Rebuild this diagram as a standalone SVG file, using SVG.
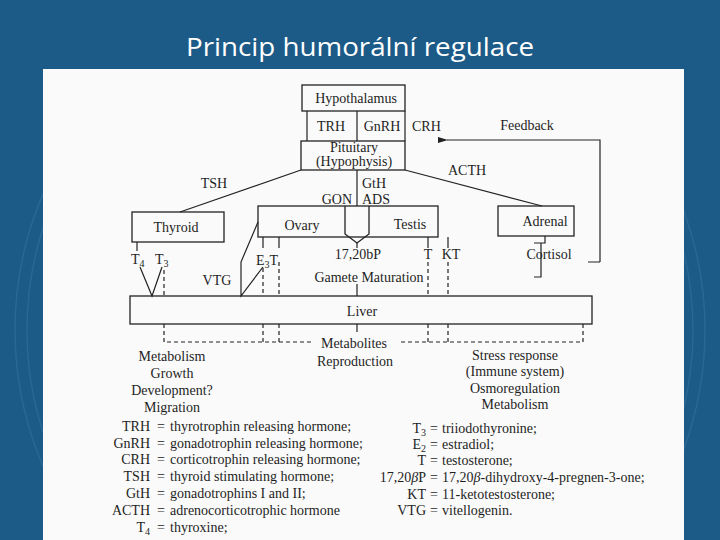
<svg xmlns="http://www.w3.org/2000/svg" width="720" height="540" viewBox="0 0 720 540">
<defs>
<style>
.box{fill:none;stroke:#222;stroke-width:1.3}
.ln{fill:none;stroke:#222;stroke-width:1.2}
.dash{stroke-dasharray:4 3}
.t{font-family:"Liberation Serif","Times New Roman",serif;font-size:14px;fill:#1e1e1e}
.c{text-anchor:middle}
.e{text-anchor:end}
.deco{fill:none;stroke:#3a77a5;stroke-width:1.5;opacity:0.45}
</style>
<clipPath id="sides">
<rect x="0" y="150" width="43" height="390"/>
<rect x="684" y="150" width="36" height="390"/>
</clipPath>
<marker id="arr" markerWidth="10" markerHeight="8" refX="1" refY="4" orient="auto" markerUnits="userSpaceOnUse">
<path d="M10,1 L0,4 L10,7 Z" fill="#222"/>
</marker>
</defs>
<rect x="0" y="0" width="720" height="540" fill="#1c5a87"/>
<g clip-path="url(#sides)">
<circle class="deco" cx="360" cy="330" r="345"/>
<circle class="deco" cx="360" cy="330" r="333"/>
</g>
<text x="360" y="56" text-anchor="middle" font-family="'Open Sans','Noto Sans',sans-serif" font-size="26" fill="#ffffff" textLength="348" lengthAdjust="spacingAndGlyphs">Princip humorální regulace</text>
<rect x="43" y="69" width="641" height="471" fill="#fafafa"/>

<g id="connectors">
<path class="ln" d="M301,170 L180,212"/>
<path class="ln" d="M405,170 L542,206"/>
<path class="ln" d="M357,170 V206"/>
<path class="ln" d="M600,262 H588 M600,262 V140 H447" marker-end="url(#arr)"/>
<path class="ln" d="M137,242 V251"/>
<path class="ln" d="M140,267 L152,296 L162,267"/>
<path class="ln dash" d="M164,270 V296"/>
<path class="ln" d="M258,222 L241,262 V296 L263,267"/>
<path class="ln" d="M263,237 V248 M279,237 V248"/>
<path class="ln dash" d="M263,268 V296 M279,262 V296"/>
<path class="ln" d="M357,243 V248 M357,284 V296"/>
<path class="ln" d="M428,237 V248 M448,237 V248"/>
<path class="ln dash" d="M428,262 V296 M448,262 V296"/>
<path class="ln" d="M545,236 V243 H534 M541,243 V277 H534"/>
<path class="ln" d="M357,324 V332"/>
<path class="ln dash" d="M164,324 V342 H311 M263,324 V342 M279,324 V342"/>
<path class="ln dash" d="M428,324 V342 M448,324 V342 M583,324 V342 H398"/>
</g>

<g id="hypothalamus">
<rect class="box" x="302" y="85" width="103" height="26"/>
<text class="t c" x="356" y="103">Hypothalamus</text>
<path class="ln" d="M307,111 V141 M357,111 V141 M405,111 V141"/>
<text class="t c" x="331" y="131">TRH</text>
<text class="t c" x="382" y="131">GnRH</text>
<text class="t" x="412" y="131">CRH</text>
</g>

<g id="pituitary">
<rect class="box" x="301" y="141" width="104" height="29"/>
<text class="t c" x="354" y="152" font-size="12">Pituitary</text>
<text class="t c" x="354" y="166" font-size="12">(Hypophysis)</text>
<text class="t" x="362" y="188">GtH</text>
<text class="t" x="362" y="204">ADS</text>
<text class="t e" x="352" y="204">GON</text>
<text class="t c" x="214" y="188">TSH</text>
<text class="t c" x="467" y="175">ACTH</text>
<text class="t c" x="527" y="130">Feedback</text>
</g>

<g id="thyroid">
<rect class="box" x="132" y="212" width="92" height="30"/>
<text class="t c" x="176" y="232">Thyroid</text>
<text class="t" x="131" y="264">T<tspan dy="3" font-size="10">4</tspan></text>
<text class="t" x="155" y="264">T<tspan dy="3" font-size="10">3</tspan></text>
</g>

<g id="gonads">
<rect class="box" x="258" y="206" width="180" height="31"/>
<path class="box" d="M345,206 V234 L357,243 L369,234 V206" fill="#fafafa"/>
<text class="t c" x="302" y="230">Ovary</text>
<text class="t c" x="410" y="229">Testis</text>
<text class="t" x="256" y="265">E<tspan dy="3" font-size="10">3</tspan><tspan dy="-3">T</tspan></text>
<text class="t c" x="217" y="285">VTG</text>
<text class="t c" x="358" y="259">17,20bP</text>
<text class="t c" x="369" y="282">Gamete Maturation</text>
<text class="t c" x="428" y="259">T</text>
<text class="t c" x="451" y="259">KT</text>
</g>

<g id="adrenal">
<rect class="box" x="498" y="206" width="76" height="30"/>
<text class="t c" x="545" y="226">Adrenal</text>
<text class="t c" x="549" y="259">Cortisol</text>
</g>

<g id="liver">
<rect class="box" x="130" y="296" width="462" height="28"/>
<text class="t c" x="362" y="316">Liver</text>
</g>

<g id="outcomes">
<text class="t c" x="354" y="348">Metabolites</text>
<text class="t c" x="355" y="366">Reproduction</text>
<text class="t c" x="172" y="361">Metabolism</text>
<text class="t c" x="172" y="378">Growth</text>
<text class="t c" x="172" y="395">Development?</text>
<text class="t c" x="172" y="412">Migration</text>
<text class="t c" x="515" y="360">Stress response</text>
<text class="t c" x="515" y="376">(Immune system)</text>
<text class="t c" x="515" y="393">Osmoregulation</text>
<text class="t c" x="515" y="409">Metabolism</text>
</g>

<g id="legend">
<text class="t e" x="150" y="431">TRH</text><text class="t c" x="161" y="431">=</text><text class="t" x="170" y="431">thyrotrophin releasing hormone;</text>
<text class="t e" x="150" y="448">GnRH</text><text class="t c" x="161" y="448">=</text><text class="t" x="170" y="448">gonadotrophin releasing hormone;</text>
<text class="t e" x="150" y="464">CRH</text><text class="t c" x="161" y="464">=</text><text class="t" x="170" y="464">corticotrophin releasing hormone;</text>
<text class="t e" x="150" y="481">TSH</text><text class="t c" x="161" y="481">=</text><text class="t" x="170" y="481">thyroid stimulating hormone;</text>
<text class="t e" x="150" y="498">GtH</text><text class="t c" x="161" y="498">=</text><text class="t" x="170" y="498">gonadotrophins I and II;</text>
<text class="t e" x="150" y="515">ACTH</text><text class="t c" x="161" y="515">=</text><text class="t" x="170" y="515">adrenocorticotrophic hormone</text>
<text class="t e" x="150" y="532">T<tspan dy="3" font-size="10">4</tspan></text><text class="t c" x="161" y="532">=</text><text class="t" x="170" y="532">thyroxine;</text>

<text class="t e" x="426" y="433">T<tspan dy="3" font-size="10">3</tspan></text><text class="t c" x="434" y="433">=</text><text class="t" x="442" y="433">triiodothyronine;</text>
<text class="t e" x="426" y="449">E<tspan dy="3" font-size="10">2</tspan></text><text class="t c" x="434" y="449">=</text><text class="t" x="442" y="449">estradiol;</text>
<text class="t e" x="426" y="465">T</text><text class="t c" x="434" y="465">=</text><text class="t" x="442" y="465">testosterone;</text>
<text class="t e" x="426" y="482">17,20<tspan font-style="italic">β</tspan>P</text><text class="t c" x="434" y="482">=</text><text class="t" x="442" y="482">17,20<tspan font-style="italic">β</tspan>-dihydroxy-4-pregnen-3-one;</text>
<text class="t e" x="426" y="499">KT</text><text class="t c" x="434" y="499">=</text><text class="t" x="442" y="499">11-ketotestosterone;</text>
<text class="t e" x="426" y="515">VTG</text><text class="t c" x="434" y="515">=</text><text class="t" x="442" y="515">vitellogenin.</text>
</g>
</svg>
